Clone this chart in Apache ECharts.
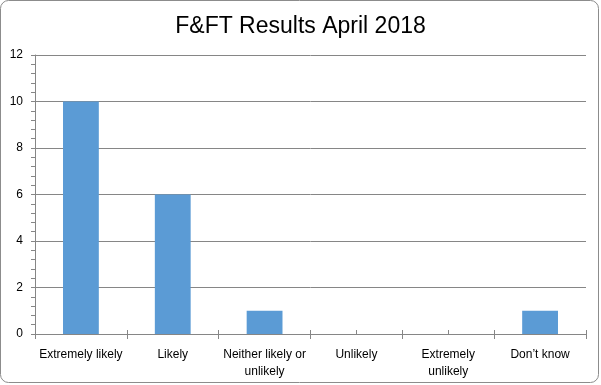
<!DOCTYPE html>
<html><head><meta charset="utf-8">
<script src="https://cdn.jsdelivr.net/npm/echarts@6/dist/echarts.min.js"></script>
<style>html,body{margin:0;padding:0;background:#fff}#c{width:601px;height:385px}</style>
</head><body><div id="c"></div>
<script>
var categories = ['Extremely likely', 'Likely', 'Neither likely or\nunlikely', 'Unlikely', 'Extremely\nunlikely', 'Don\u2019t know'];
var values = [10, 6, 1, 0, 0, 1];
var titleText = 'F&FT Results April 2018';
var yMin = 0, yMax = 12, yStep = 2;

var chart = echarts.init(document.getElementById('c'), null, {renderer: 'canvas'});
var axisColor = '#868686';
chart.setOption({
  animation: false,
  backgroundColor: '#fff',
  title: {
    text: titleText, left: 'center', top: 10,
    textStyle: {fontFamily: 'Liberation Sans', fontSize: 23, fontWeight: 'normal', color: '#000'}
  },
  graphic: [{
    type: 'rect', shape: {x: 0.5, y: 0.5, width: 598, height: 382, r: 8},
    style: {fill: 'none', stroke: '#8c8c8c', lineWidth: 1}, silent: true, z: -1
  }],
  grid: {left: 35, right: 15, top: 55, bottom: 51},
  xAxis: [{
    type: 'category', data: categories,
    axisLine: {lineStyle: {color: axisColor}},
    axisTick: {show: true, length: 5, lineStyle: {color: axisColor}},
    axisLabel: {fontFamily: 'Liberation Sans', fontSize: 12, color: '#000', margin: 12, lineHeight: 17, interval: 0}
  }, {
    type: 'value', min: 0, max: 6, interval: 0.5, position: 'bottom',
    axisLine: {show: false}, splitLine: {show: false}, axisLabel: {show: false},
    axisTick: {show: true, inside: true, length: 4, lineStyle: {color: axisColor}}
  }],
  yAxis: {
    type: 'value', min: yMin, max: yMax, interval: yStep,
    axisLine: {show: true, lineStyle: {color: axisColor}},
    axisTick: {show: true, length: 4, lineStyle: {color: axisColor}},
    minorTick: {show: true, splitNumber: 5, length: 4, lineStyle: {color: axisColor}},
    splitLine: {lineStyle: {color: axisColor}},
    axisLabel: {fontFamily: 'Liberation Sans', fontSize: 12, color: '#000', margin: 12}
  },
  series: [{
    type: 'bar', data: values, barWidth: '39%', xAxisIndex: 0,
    itemStyle: {color: '#5b9bd5'}
  }]
});
</script></body></html>
